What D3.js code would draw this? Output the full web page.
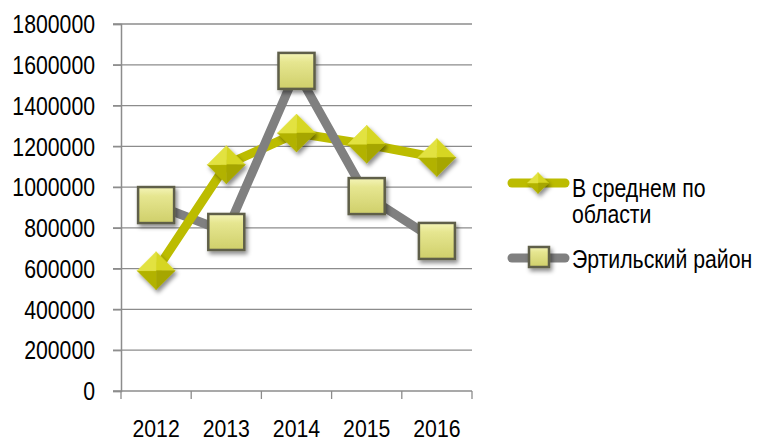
<!DOCTYPE html>
<html><head><meta charset="utf-8">
<script src="https://cdn.jsdelivr.net/npm/d3@7/dist/d3.min.js"></script>
<style>
html,body{margin:0;padding:0;background:#fff;}
svg text{font-family:"Liberation Sans",Arial,sans-serif;fill:#000;}
</style></head>
<body>
<svg id="chart" width="759" height="443"></svg>
<script>
const years = ["2012","2013","2014","2015","2016"];
const avgValues = [590000, 1110000, 1265000, 1210000, 1145000];
const ertilValues = [912000, 780000, 1570000, 956000, 736000];
const yTicks = [0,200000,400000,600000,800000,1000000,1200000,1400000,1600000,1800000];
const seriesNames = ["В среднем по области", "Эртильский район"];

const SX = 0.85; // condensed text
const svg = d3.select("#chart");
const defs = svg.append("defs");
const f = defs.append("filter").attr("id","shadow").attr("x","-50%").attr("y","-50%").attr("width","200%").attr("height","200%");
f.append("feDropShadow").attr("dx",2).attr("dy",3).attr("stdDeviation",2).attr("flood-color","#000").attr("flood-opacity",0.45);
const gs = defs.append("linearGradient").attr("id","sqGrad").attr("x1",0).attr("y1",0).attr("x2",0).attr("y2",1);
gs.append("stop").attr("offset","0%").attr("stop-color","#f4f4b8");
gs.append("stop").attr("offset","25%").attr("stop-color","#e6e690");
gs.append("stop").attr("offset","100%").attr("stop-color","#cfcf6a");

const x = d3.scaleBand().domain(years).range([121,472]).padding(0);
const y = d3.scaleLinear().domain([0,1800000]).range([391,24]);

// gridlines
svg.append("g").selectAll("line").data(yTicks).join("line")
  .attr("x1",113).attr("x2",472).attr("y1",d=>y(d)).attr("y2",d=>y(d))
  .attr("stroke","#8c8c8c").attr("stroke-width",1.3);

// y axis
const yAxis = svg.append("g").attr("transform","translate(121,0)")
  .call(d3.axisLeft(y).tickValues(yTicks).tickSize(8).tickPadding(18).tickFormat(d3.format("d")));
yAxis.select(".domain").attr("stroke","#8c8c8c").attr("stroke-width",1.5);
yAxis.selectAll(".tick line").attr("stroke","#8c8c8c").attr("stroke-width",1.3);
yAxis.selectAll("text").attr("font-size",25).attr("dy","0.35em")
  .attr("x",-26/SX).attr("transform",`scale(${SX},1)`);

// x axis
const xAxis = svg.append("g").attr("transform","translate(0,391)")
  .call(d3.axisBottom(x).tickSize(0).tickPadding(0));
xAxis.select(".domain").remove();
xAxis.selectAll(".tick text").attr("font-size",24).attr("y",46).attr("dy",0)
  .attr("transform",`scale(${SX*25/24},1)`);
svg.append("g").selectAll("line").data([...years.map(d=>x(d)), 472]).join("line")
  .attr("x1",d=>d).attr("x2",d=>d).attr("y1",391).attr("y2",399)
  .attr("stroke","#8c8c8c").attr("stroke-width",1.3);

const cx = d => x(d) + x.bandwidth()/2;
const line = d3.line().x(d=>cx(d.year)).y(d=>y(d.v));
const avgData = years.map((yr,i)=>({year:yr,v:avgValues[i]}));
const ertData = years.map((yr,i)=>({year:yr,v:ertilValues[i]}));
const YEL = "#bcbc00", GRY = "#808080";

// first gray segment beneath the yellow line
svg.append("path").attr("d",line(ertData.slice(0,2))).attr("fill","none")
  .attr("stroke",GRY).attr("stroke-width",9).attr("stroke-linejoin","round");
svg.append("path").attr("d",line(avgData)).attr("fill","none")
  .attr("stroke",YEL).attr("stroke-width",9).attr("stroke-linejoin","round");
svg.append("path").attr("d",line(ertData.slice(1))).attr("fill","none")
  .attr("stroke",GRY).attr("stroke-width",9).attr("stroke-linejoin","round");

function diamond(g, px, py, r){
  const gg = g.append("g").attr("transform",`translate(${px},${py})`).attr("filter","url(#shadow)");
  const t=[0,-r], l=[-r,0], b=[0,r], rr=[r,0], c=[0,0];
  const facets = [[t,rr,"#d6d620"],[rr,b,"#a6a600"],[b,l,"#b2b200"],[l,t,"#e2e240"]];
  facets.forEach(([p1,p2,col])=>{
    gg.append("path").attr("d",`M${c}L${p1}L${p2}Z`).attr("fill",col).attr("stroke",col).attr("stroke-width",0.5);
  });
}
function square(g, px, py, s){
  const gg = g.append("g").attr("transform",`translate(${px},${py})`).attr("filter","url(#shadow)");
  gg.append("rect").attr("x",-s/2).attr("y",-s/2).attr("width",s).attr("height",s)
    .attr("fill","url(#sqGrad)").attr("stroke","#5e5e48").attr("stroke-width",2.5);
}
const mk = svg.append("g");
avgData.forEach(d=>diamond(mk, cx(d.year), y(d.v), 19));
ertData.forEach(d=>square(mk, cx(d.year), y(d.v), 36));

// legend
const lg = svg.append("g");
lg.append("line").attr("x1",512).attr("x2",565).attr("y1",183).attr("y2",183)
  .attr("stroke",YEL).attr("stroke-width",9).attr("stroke-linecap","round");
diamond(lg, 538, 183, 10.5);
lg.append("line").attr("x1",512).attr("x2",565).attr("y1",258).attr("y2",258)
  .attr("stroke",GRY).attr("stroke-width",9).attr("stroke-linecap","round");
square(lg, 539, 257, 20);
const LX = 572/SX;
const t1 = lg.append("text").attr("x",LX).attr("y",197).attr("font-size",25).attr("transform",`scale(${SX},1)`);
t1.append("tspan").attr("x",LX).text("В среднем по");
t1.append("tspan").attr("x",LX).attr("dy",26).text("области");
lg.append("text").attr("x",LX).attr("y",268).attr("font-size",25).attr("transform",`scale(${SX},1)`).text(seriesNames[1]);
</script>
</body></html>
